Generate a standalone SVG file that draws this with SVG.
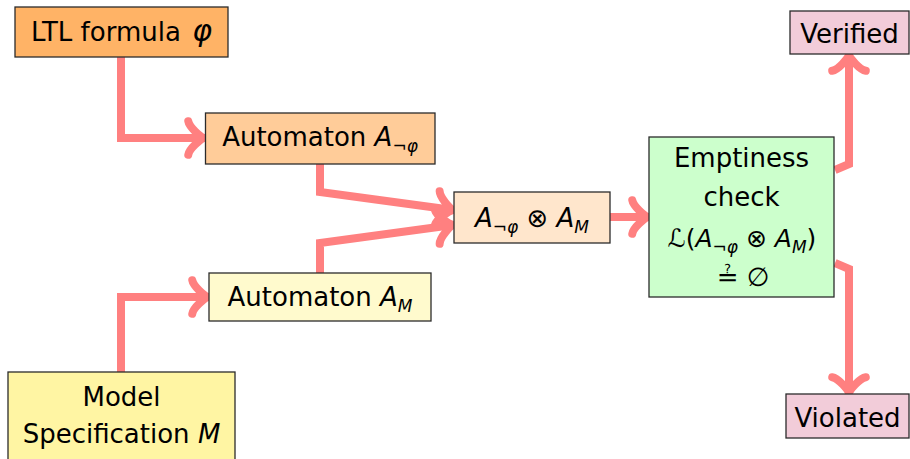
<svg xmlns="http://www.w3.org/2000/svg" width="910" height="459" viewBox="0 0 910 459">
  <style>
    .box { stroke: #2b2b2b; stroke-width: 1.3; }
    .lbl { font-family: "DejaVu Sans", "Liberation Sans", sans-serif; font-size: 26px; fill: #000; text-anchor: middle; }
    .it { font-style: italic; }
    .sub { font-size: 17px; }
    .wire { fill: none; stroke: #FF8080; stroke-width: 8; stroke-linejoin: miter; marker-end: url(#to); }
  </style>
  <defs>
    <!-- curved "to" style arrowhead, same colour and weight as the wires -->
    <marker id="to" markerUnits="userSpaceOnUse" viewBox="-24 -24 30 48" markerWidth="30" markerHeight="48" refX="0" refY="0" orient="auto" style="overflow:visible">
      <path d="M -15.75,-16.8 C -14.7,-10.5 -3.15,-1.05 0,0 C -3.15,1.05 -14.7,10.5 -15.75,16.8" fill="none" stroke="#FF8080" stroke-width="8" stroke-linecap="round"/>
    </marker>
  </defs>

  <!-- connectors, drawn first so the boxes sit on top -->
  <g id="connectors">
    <path class="wire" d="M121,57 V138 H204"/>
    <path class="wire" d="M121,372 V297 H208"/>
    <path class="wire" d="M320,164 V192 L453,210"/>
    <path class="wire" d="M320,273 V243 L453,225"/>
    <path class="wire" d="M610,217 H648"/>
    <path class="wire" d="M835,170 L849,164 V55"/>
    <path class="wire" d="M835,263 L849,269 V393"/>
  </g>

  <g id="ltl">
    <rect class="box" x="15" y="7" width="213" height="50" fill="#FFB366"/>
    <text class="lbl" x="121.5" y="41">LTL formula <tspan class="it" style="font-size:30px" dx="3">φ</tspan></text>
  </g>

  <g id="aut-neg">
    <rect class="box" x="205.5" y="113" width="229.5" height="51" fill="#FFCC99"/>
    <text class="lbl" x="320" y="146">Automaton <tspan class="it">A</tspan><tspan class="sub" dy="6">¬</tspan><tspan class="sub it">φ</tspan></text>
  </g>

  <g id="aut-model">
    <rect class="box" x="209" y="273" width="222" height="48" fill="#FFFACD"/>
    <text class="lbl" x="320" y="306">Automaton <tspan class="it">A</tspan><tspan class="sub it" dy="6">M</tspan></text>
  </g>

  <g id="model">
    <rect class="box" x="8" y="372" width="227" height="100" fill="#FFF5A3"/>
    <text class="lbl" x="121.5" y="406">Model</text>
    <text class="lbl" x="121.5" y="443">Specification <tspan class="it">M</tspan></text>
  </g>

  <g id="product">
    <rect class="box" x="454" y="192" width="156" height="51" fill="#FFE6CC"/>
    <text class="lbl" x="532" y="227"><tspan class="it">A</tspan><tspan class="sub" dy="6">¬</tspan><tspan class="sub it">φ</tspan><tspan dy="-6"> ⊗ </tspan><tspan class="it">A</tspan><tspan class="sub it" dy="6">M</tspan></text>
  </g>

  <g id="emptiness">
    <rect class="box" x="649" y="137" width="185" height="160" fill="#CCFFCC"/>
    <text class="lbl" x="741.5" y="167">Emptiness</text>
    <text class="lbl" x="741.5" y="206">check</text>
    <text class="lbl" x="742" y="247" style="font-size:25px">ℒ(<tspan class="it">A</tspan><tspan class="sub" dy="6">¬</tspan><tspan class="sub it">φ</tspan><tspan dy="-6"> ⊗ </tspan><tspan class="it">A</tspan><tspan class="sub it" dy="6">M</tspan><tspan dy="-6">)</tspan></text>
    <!-- questioned-equal sign followed by the empty set -->
    <text class="lbl" x="743" y="286" style="font-size:26px">≟ ∅</text>
  </g>

  <g id="verified">
    <rect class="box" x="790" y="11" width="119" height="43" fill="#F2CCD9"/>
    <text class="lbl" x="849.5" y="43">Verified</text>
  </g>

  <g id="violated">
    <rect class="box" x="786" y="394" width="123" height="44" fill="#F2CCD9"/>
    <text class="lbl" x="847.5" y="427">Violated</text>
  </g>
</svg>
